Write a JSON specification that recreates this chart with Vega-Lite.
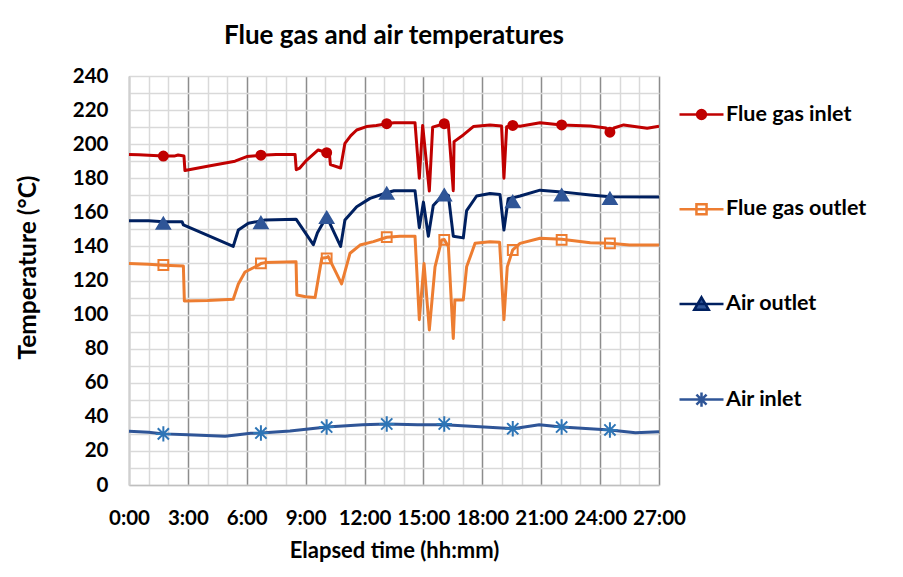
{
  "$schema": "https://vega.github.io/schema/vega-lite/v6.json",
  "width": 530,
  "height": 409,
  "autosize": "none",
  "padding": {"left": 129, "top": 76, "right": 244, "bottom": 92},
  "background": "white",
  "config": {
    "font": "Lato",
    "view": {"stroke": null},
    "legend": {
      "labelFont": "Lato",
      "labelFontSize": 21.5,
      "labelFontWeight": "bold",
      "labelColor": "#000000",
      "labelOffset": 1,
      "labelLimit": 300,
      "symbolSize": 1936,
      "symbolStrokeWidth": 2.5,
      "rowPadding": 60.7,
      "padding": 0,
      "title": null
    }
  },
  "title": {
    "text": "Flue gas and air temperatures",
    "font": "Lato",
    "fontSize": 26,
    "fontWeight": "bold",
    "color": "#000000",
    "anchor": "middle",
    "baseline": "alphabetic",
    "offset": -4
  },
  "datasets": {
    "lines": [
      {"series": "Flue gas inlet", "h": 0, "t": 194},
      {"series": "Flue gas inlet", "h": 0.5, "t": 193.8},
      {"series": "Flue gas inlet", "h": 1.0, "t": 193.5},
      {"series": "Flue gas inlet", "h": 1.75, "t": 193},
      {"series": "Flue gas inlet", "h": 2.3, "t": 193},
      {"series": "Flue gas inlet", "h": 2.5, "t": 193.6},
      {"series": "Flue gas inlet", "h": 2.8, "t": 193},
      {"series": "Flue gas inlet", "h": 2.85, "t": 184.5},
      {"series": "Flue gas inlet", "h": 4.0, "t": 187},
      {"series": "Flue gas inlet", "h": 5.4, "t": 190},
      {"series": "Flue gas inlet", "h": 6.0, "t": 192.7},
      {"series": "Flue gas inlet", "h": 6.72, "t": 193.5},
      {"series": "Flue gas inlet", "h": 7.5, "t": 194},
      {"series": "Flue gas inlet", "h": 8.46, "t": 194},
      {"series": "Flue gas inlet", "h": 8.52, "t": 185},
      {"series": "Flue gas inlet", "h": 8.7, "t": 186},
      {"series": "Flue gas inlet", "h": 9.0, "t": 190},
      {"series": "Flue gas inlet", "h": 9.64, "t": 196.6},
      {"series": "Flue gas inlet", "h": 10.07, "t": 195},
      {"series": "Flue gas inlet", "h": 10.2, "t": 195.5},
      {"series": "Flue gas inlet", "h": 10.26, "t": 188},
      {"series": "Flue gas inlet", "h": 10.78, "t": 186},
      {"series": "Flue gas inlet", "h": 11.0, "t": 200.5},
      {"series": "Flue gas inlet", "h": 11.3, "t": 205},
      {"series": "Flue gas inlet", "h": 11.6, "t": 208.3},
      {"series": "Flue gas inlet", "h": 12.1, "t": 210.3},
      {"series": "Flue gas inlet", "h": 12.6, "t": 211},
      {"series": "Flue gas inlet", "h": 13.13, "t": 212},
      {"series": "Flue gas inlet", "h": 13.5, "t": 212.6},
      {"series": "Flue gas inlet", "h": 14.57, "t": 212.6},
      {"series": "Flue gas inlet", "h": 14.79, "t": 180},
      {"series": "Flue gas inlet", "h": 14.96, "t": 211},
      {"series": "Flue gas inlet", "h": 15.3, "t": 172.5},
      {"series": "Flue gas inlet", "h": 15.47, "t": 210},
      {"series": "Flue gas inlet", "h": 16.06, "t": 212},
      {"series": "Flue gas inlet", "h": 16.27, "t": 211.3},
      {"series": "Flue gas inlet", "h": 16.52, "t": 172.7},
      {"series": "Flue gas inlet", "h": 16.56, "t": 201.5},
      {"series": "Flue gas inlet", "h": 17.03, "t": 205.4},
      {"series": "Flue gas inlet", "h": 17.54, "t": 210.3},
      {"series": "Flue gas inlet", "h": 18.39, "t": 211.3},
      {"series": "Flue gas inlet", "h": 18.98, "t": 210.7},
      {"series": "Flue gas inlet", "h": 19.1, "t": 180},
      {"series": "Flue gas inlet", "h": 19.24, "t": 210.3},
      {"series": "Flue gas inlet", "h": 19.55, "t": 211},
      {"series": "Flue gas inlet", "h": 19.92, "t": 210.5},
      {"series": "Flue gas inlet", "h": 20.94, "t": 212.6},
      {"series": "Flue gas inlet", "h": 22.04, "t": 211.3},
      {"series": "Flue gas inlet", "h": 23.5, "t": 210.7},
      {"series": "Flue gas inlet", "h": 24.3, "t": 209.5},
      {"series": "Flue gas inlet", "h": 24.5, "t": 207},
      {"series": "Flue gas inlet", "h": 24.7, "t": 209.5},
      {"series": "Flue gas inlet", "h": 25.2, "t": 211.3},
      {"series": "Flue gas inlet", "h": 26.4, "t": 209.3},
      {"series": "Flue gas inlet", "h": 27, "t": 210.5},

      {"series": "Flue gas outlet", "h": 0, "t": 130},
      {"series": "Flue gas outlet", "h": 1.0, "t": 129.5},
      {"series": "Flue gas outlet", "h": 1.75, "t": 129},
      {"series": "Flue gas outlet", "h": 2.77, "t": 128.5},
      {"series": "Flue gas outlet", "h": 2.82, "t": 108},
      {"series": "Flue gas outlet", "h": 4.0, "t": 108.3},
      {"series": "Flue gas outlet", "h": 5.31, "t": 109},
      {"series": "Flue gas outlet", "h": 5.57, "t": 118},
      {"series": "Flue gas outlet", "h": 5.91, "t": 125},
      {"series": "Flue gas outlet", "h": 6.59, "t": 129},
      {"series": "Flue gas outlet", "h": 6.72, "t": 130},
      {"series": "Flue gas outlet", "h": 6.93, "t": 130.5},
      {"series": "Flue gas outlet", "h": 8.51, "t": 131},
      {"series": "Flue gas outlet", "h": 8.55, "t": 111.5},
      {"series": "Flue gas outlet", "h": 9.0, "t": 110.5},
      {"series": "Flue gas outlet", "h": 9.48, "t": 110},
      {"series": "Flue gas outlet", "h": 9.82, "t": 133},
      {"series": "Flue gas outlet", "h": 10.07, "t": 133.5},
      {"series": "Flue gas outlet", "h": 10.15, "t": 134},
      {"series": "Flue gas outlet", "h": 10.83, "t": 118},
      {"series": "Flue gas outlet", "h": 11.26, "t": 136},
      {"series": "Flue gas outlet", "h": 11.77, "t": 140.8},
      {"series": "Flue gas outlet", "h": 12.45, "t": 142.8},
      {"series": "Flue gas outlet", "h": 13.13, "t": 145.4},
      {"series": "Flue gas outlet", "h": 13.8, "t": 146},
      {"series": "Flue gas outlet", "h": 14.57, "t": 146},
      {"series": "Flue gas outlet", "h": 14.79, "t": 97},
      {"series": "Flue gas outlet", "h": 15.03, "t": 130},
      {"series": "Flue gas outlet", "h": 15.3, "t": 91},
      {"series": "Flue gas outlet", "h": 15.59, "t": 128},
      {"series": "Flue gas outlet", "h": 15.93, "t": 143.8},
      {"series": "Flue gas outlet", "h": 16.06, "t": 144},
      {"series": "Flue gas outlet", "h": 16.27, "t": 140},
      {"series": "Flue gas outlet", "h": 16.52, "t": 86},
      {"series": "Flue gas outlet", "h": 16.6, "t": 108.6},
      {"series": "Flue gas outlet", "h": 17.03, "t": 108.6},
      {"series": "Flue gas outlet", "h": 17.2, "t": 128},
      {"series": "Flue gas outlet", "h": 17.63, "t": 141.8},
      {"series": "Flue gas outlet", "h": 18.39, "t": 142.8},
      {"series": "Flue gas outlet", "h": 18.88, "t": 142.4},
      {"series": "Flue gas outlet", "h": 19.1, "t": 97},
      {"series": "Flue gas outlet", "h": 19.27, "t": 128},
      {"series": "Flue gas outlet", "h": 19.55, "t": 138},
      {"series": "Flue gas outlet", "h": 19.92, "t": 141.8},
      {"series": "Flue gas outlet", "h": 20.94, "t": 144.8},
      {"series": "Flue gas outlet", "h": 22.04, "t": 144.2},
      {"series": "Flue gas outlet", "h": 23.5, "t": 142.2},
      {"series": "Flue gas outlet", "h": 24.5, "t": 141.8},
      {"series": "Flue gas outlet", "h": 25.5, "t": 140.8},
      {"series": "Flue gas outlet", "h": 27, "t": 140.8},

      {"series": "Air outlet", "h": 0, "t": 155},
      {"series": "Air outlet", "h": 1.0, "t": 155},
      {"series": "Air outlet", "h": 1.75, "t": 154.5},
      {"series": "Air outlet", "h": 2.7, "t": 154.5},
      {"series": "Air outlet", "h": 2.77, "t": 152.6},
      {"series": "Air outlet", "h": 5.31, "t": 140},
      {"series": "Air outlet", "h": 5.57, "t": 149.6},
      {"series": "Air outlet", "h": 6.08, "t": 153.6},
      {"series": "Air outlet", "h": 6.72, "t": 155},
      {"series": "Air outlet", "h": 6.93, "t": 155.5},
      {"series": "Air outlet", "h": 8.51, "t": 156},
      {"series": "Air outlet", "h": 9.39, "t": 141},
      {"series": "Air outlet", "h": 9.6, "t": 148},
      {"series": "Air outlet", "h": 10.07, "t": 157.5},
      {"series": "Air outlet", "h": 10.78, "t": 140},
      {"series": "Air outlet", "h": 11.0, "t": 155.5},
      {"series": "Air outlet", "h": 11.6, "t": 163.3},
      {"series": "Air outlet", "h": 12.28, "t": 168.2},
      {"series": "Air outlet", "h": 13.13, "t": 171.5},
      {"series": "Air outlet", "h": 13.5, "t": 172.7},
      {"series": "Air outlet", "h": 14.57, "t": 172.7},
      {"series": "Air outlet", "h": 14.79, "t": 151},
      {"series": "Air outlet", "h": 15.0, "t": 166},
      {"series": "Air outlet", "h": 15.25, "t": 146},
      {"series": "Air outlet", "h": 15.5, "t": 164},
      {"series": "Air outlet", "h": 16.06, "t": 171},
      {"series": "Air outlet", "h": 16.27, "t": 170},
      {"series": "Air outlet", "h": 16.52, "t": 146},
      {"series": "Air outlet", "h": 17.03, "t": 145},
      {"series": "Air outlet", "h": 17.2, "t": 161},
      {"series": "Air outlet", "h": 17.71, "t": 169.6},
      {"series": "Air outlet", "h": 18.39, "t": 171},
      {"series": "Air outlet", "h": 18.9, "t": 170.5},
      {"series": "Air outlet", "h": 19.1, "t": 149.6},
      {"series": "Air outlet", "h": 19.32, "t": 168},
      {"series": "Air outlet", "h": 19.55, "t": 168.5},
      {"series": "Air outlet", "h": 19.92, "t": 169.6},
      {"series": "Air outlet", "h": 20.94, "t": 173},
      {"series": "Air outlet", "h": 22.04, "t": 172},
      {"series": "Air outlet", "h": 23.5, "t": 170.2},
      {"series": "Air outlet", "h": 24.5, "t": 169.2},
      {"series": "Air outlet", "h": 27, "t": 169},

      {"series": "Air inlet", "h": 0, "t": 31.5},
      {"series": "Air inlet", "h": 1.0, "t": 31},
      {"series": "Air inlet", "h": 1.75, "t": 30},
      {"series": "Air inlet", "h": 3.0, "t": 29.5},
      {"series": "Air inlet", "h": 4.9, "t": 28.6},
      {"series": "Air inlet", "h": 6.2, "t": 30.3},
      {"series": "Air inlet", "h": 6.72, "t": 30.5},
      {"series": "Air inlet", "h": 8.2, "t": 31.7},
      {"series": "Air inlet", "h": 10.07, "t": 34},
      {"series": "Air inlet", "h": 11.9, "t": 35.3},
      {"series": "Air inlet", "h": 13.13, "t": 35.8},
      {"series": "Air inlet", "h": 14.7, "t": 35.3},
      {"series": "Air inlet", "h": 16.06, "t": 35.3},
      {"series": "Air inlet", "h": 18.1, "t": 34.1},
      {"series": "Air inlet", "h": 19.55, "t": 33},
      {"series": "Air inlet", "h": 20.9, "t": 35.3},
      {"series": "Air inlet", "h": 22.04, "t": 34},
      {"series": "Air inlet", "h": 24.5, "t": 32.3},
      {"series": "Air inlet", "h": 25.8, "t": 30.6},
      {"series": "Air inlet", "h": 27, "t": 31.3}
    ],
    "markers": [
      {"series": "Flue gas inlet", "h": 1.75, "t": 193},
      {"series": "Flue gas inlet", "h": 6.72, "t": 193.5},
      {"series": "Flue gas inlet", "h": 10.07, "t": 195},
      {"series": "Flue gas inlet", "h": 13.13, "t": 212},
      {"series": "Flue gas inlet", "h": 16.06, "t": 212},
      {"series": "Flue gas inlet", "h": 19.55, "t": 211},
      {"series": "Flue gas inlet", "h": 22.04, "t": 211.3},
      {"series": "Flue gas inlet", "h": 24.5, "t": 207},
      {"series": "Flue gas outlet", "h": 1.75, "t": 129.1},
      {"series": "Flue gas outlet", "h": 6.72, "t": 130.1},
      {"series": "Flue gas outlet", "h": 10.07, "t": 133},
      {"series": "Flue gas outlet", "h": 13.13, "t": 145.4},
      {"series": "Flue gas outlet", "h": 16.06, "t": 143.8},
      {"series": "Flue gas outlet", "h": 19.55, "t": 137.9},
      {"series": "Flue gas outlet", "h": 22.04, "t": 143.8},
      {"series": "Flue gas outlet", "h": 24.5, "t": 141.8},
      {"series": "Air outlet", "h": 1.75, "t": 153.6},
      {"series": "Air outlet", "h": 6.72, "t": 154},
      {"series": "Air outlet", "h": 10.07, "t": 157},
      {"series": "Air outlet", "h": 13.13, "t": 171.2},
      {"series": "Air outlet", "h": 16.06, "t": 170.2},
      {"series": "Air outlet", "h": 19.55, "t": 166.3},
      {"series": "Air outlet", "h": 22.04, "t": 170.2},
      {"series": "Air outlet", "h": 24.5, "t": 168.2},
      {"series": "Air inlet", "h": 1.75, "t": 30},
      {"series": "Air inlet", "h": 6.72, "t": 30.5},
      {"series": "Air inlet", "h": 10.07, "t": 34},
      {"series": "Air inlet", "h": 13.13, "t": 35.8},
      {"series": "Air inlet", "h": 16.06, "t": 35.8},
      {"series": "Air inlet", "h": 19.55, "t": 33},
      {"series": "Air inlet", "h": 22.04, "t": 34},
      {"series": "Air inlet", "h": 24.5, "t": 32.3}
    ]
  },
  "encoding": {
    "x": {
      "field": "h",
      "type": "quantitative",
      "scale": {"domain": [0, 27], "nice": false, "zero": false},
      "axis": {
        "values": [0,1,2,3,4,5,6,7,8,9,10,11,12,13,14,15,16,17,18,19,20,21,22,23,24,25,26,27],
        "labelExpr": "datum.value % 3 === 0 ? datum.value + ':00' : ''",
        "labelFont": "Lato",
        "labelFontSize": 20.5,
        "labelFontWeight": "bold",
        "labelColor": "#000000",
        "labelBaseline": "alphabetic",
        "labelPadding": 39,
        "labelOverlap": false,
        "labelFlush": false,
        "ticks": false,
        "tickSize": 0,
        "grid": true,
        "gridColor": {"condition": {"test": "datum.value % 3 === 0", "value": "#8c8c8c"}, "value": "#d9d9d9"},
        "gridWidth": 1.5,
        "domainColor": "#bfbfbf",
        "domainWidth": 1.5,
        "title": "Elapsed time (hh:mm)",
        "titleFont": "Lato",
        "titleFontSize": 22,
        "titleFontWeight": "bold",
        "titleColor": "#000000",
        "titleX": 265,
        "titleY": 72,
        "titleBaseline": "alphabetic"
      }
    },
    "y": {
      "field": "t",
      "type": "quantitative",
      "scale": {"domain": [0, 240], "nice": false},
      "axis": {
        "values": [0,10,20,30,40,50,60,70,80,90,100,110,120,130,140,150,160,170,180,190,200,210,220,230,240],
        "labelExpr": "datum.value % 20 === 0 ? datum.value : ''",
        "labelFont": "Lato",
        "labelFontSize": 20.5,
        "labelFontWeight": "bold",
        "labelColor": "#000000",
        "labelPadding": 21,
        "labelOverlap": false,
        "labelFlush": false,
        "ticks": false,
        "tickSize": 0,
        "grid": true,
        "gridColor": "#d9d9d9",
        "gridWidth": 1.5,
        "domainColor": "#d0d0d0",
        "domainWidth": 1.5,
        "title": "Temperature (°C)",
        "titleFont": "Lato",
        "titleFontSize": 24.5,
        "titleFontWeight": "bold",
        "titleColor": "#000000",
        "titleAngle": -90,
        "titleX": -101,
        "titleY": 191,
        "titleAlign": "center",
        "titleBaseline": "middle"
      }
    }
  },
  "layer": [
    {
      "data": {"name": "lines"},
      "mark": {"type": "line", "strokeWidth": 3, "strokeJoin": "round"},
      "encoding": {
        "color": {
          "field": "series",
          "type": "nominal",
          "scale": {
            "domain": ["Flue gas inlet", "Flue gas outlet", "Air outlet", "Air inlet"],
            "range": ["#C00000", "#ED7D31", "#002060", "#2F5597"]
          },
          "legend": null
        }
      }
    },
    {
      "data": {"name": "markers"},
      "mark": {"type": "point", "opacity": 1, "strokeWidth": 2, "size": 196},
      "encoding": {
        "shape": {
          "field": "series",
          "type": "nominal",
          "scale": {
            "domain": ["Flue gas inlet", "Flue gas outlet", "Air outlet", "Air inlet"],
            "range": [
              "M0.64,0A0.64,0.64,0,1,1,-0.64,0A0.64,0.64,0,1,1,0.64,0Z",
              "M-0.7,-0.7H0.7V0.7H-0.7Z",
              "M0,-0.8L0.95,0.8H-0.95Z",
              "M0,-1.1V1.1M-1.1,0H1.1M-0.8,-0.8L0.8,0.8M-0.8,0.8L0.8,-0.8"
            ]
          },
          "legend": null
        },
        "fill": {
          "field": "series",
          "type": "nominal",
          "scale": {
            "domain": ["Flue gas inlet", "Flue gas outlet", "Air outlet", "Air inlet"],
            "range": ["#C00000", "transparent", "#2F5597", "transparent"]
          },
          "legend": null
        },
        "stroke": {
          "field": "series",
          "type": "nominal",
          "scale": {
            "domain": ["Flue gas inlet", "Flue gas outlet", "Air outlet", "Air inlet"],
            "range": ["#C00000", "#ED7D31", "#2F5597", "#2E75B6"]
          },
          "legend": null
        }
      }
    },
    {
      "data": {"name": "markers"},
      "transform": [{"filter": "datum.h < 0"}],
      "mark": {"type": "point", "opacity": 1, "strokeWidth": 2.5},
      "encoding": {
        "shape": {
          "field": "series",
          "type": "nominal",
          "scale": {
            "domain": ["Flue gas inlet", "Flue gas outlet", "Air outlet", "Air inlet"],
            "range": [
              "M-1,0H1M0.2,0A0.2,0.2,0,1,1,-0.2,0A0.2,0.2,0,1,1,0.2,0Z",
              "M-1,0H1M-0.23,-0.23H0.23V0.23H-0.23Z",
              "M-1,0H1M0,-0.3L0.33,0.27H-0.33Z",
              "M-1,0H1M0,-0.32V0.32M-0.23,-0.23L0.23,0.23M-0.23,0.23L0.23,-0.23"
            ]
          },
          "legend": {"orient": "none", "legendX": 549, "legendY": 15}
        },
        "fill": {
          "field": "series",
          "type": "nominal",
          "scale": {
            "domain": ["Flue gas inlet", "Flue gas outlet", "Air outlet", "Air inlet"],
            "range": ["#C00000", "transparent", "#2F5597", "transparent"]
          },
          "legend": {"orient": "none", "legendX": 549, "legendY": 15}
        },
        "stroke": {
          "field": "series",
          "type": "nominal",
          "scale": {
            "domain": ["Flue gas inlet", "Flue gas outlet", "Air outlet", "Air inlet"],
            "range": ["#C00000", "#ED7D31", "#002060", "#2F5597"]
          },
          "legend": {"orient": "none", "legendX": 549, "legendY": 15}
        }
      }
    }
  ],
  "resolve": {"scale": {"shape": "independent", "fill": "independent", "stroke": "independent"}}
}
